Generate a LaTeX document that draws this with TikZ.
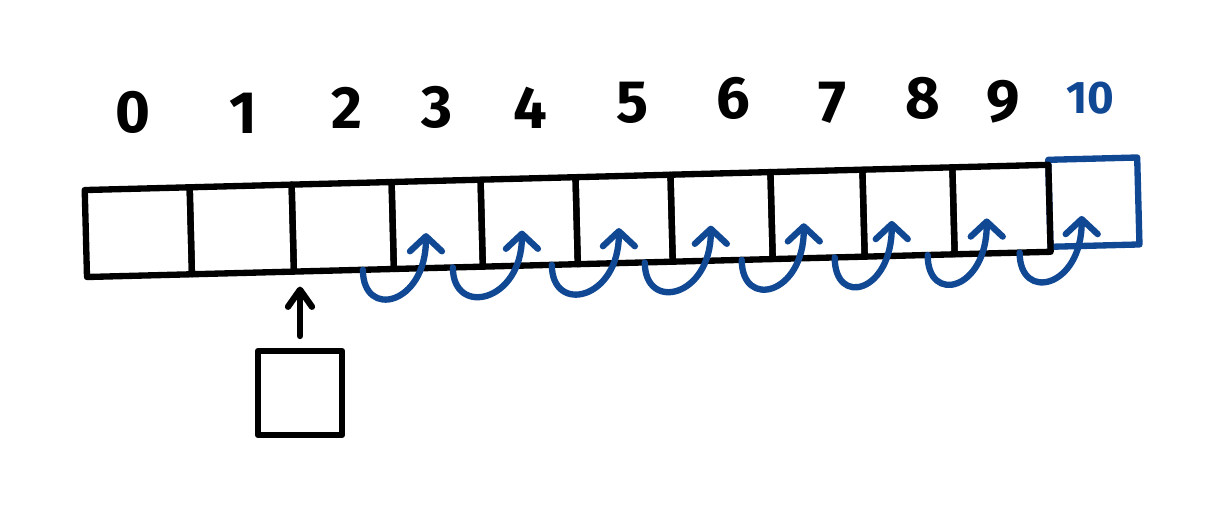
\documentclass[tikz,border=0pt]{standalone}
\usepackage{fontspec}
\setmainfont{Fira Sans}
\usetikzlibrary{arrows.meta}

\definecolor{penblue}{RGB}{16,72,148}

\begin{document}
\begin{tikzpicture}[
        ink/.style={line width=1.8pt, line cap=round, line join=round},
        cell/.style={ink, draw=black, minimum height=0.87cm, inner sep=0pt, outer sep=0pt, anchor=south west},
        hop/.style={ink, draw=penblue, -{Straight Barb[length=0.15cm,width=0.32cm,line cap=round,line join=round]}},
        idx/.style={font=\fontsize{17}{19}\selectfont\bfseries}]
    \useasboundingbox (0,0) rectangle (12.17,-5.04);

    % the array, drawn a little uphill
    \begin{scope}[rotate around={1.5:(0.87,-2.77)}, transform shape]
        \node [cell, draw=penblue, minimum width=0.89cm] (c10) at (10.51,-2.72) {};
        \foreach \i/\a/\b in {0/0.87/1.92, 1/1.92/2.94, 2/2.94/3.94, 3/3.94/4.83, 4/4.83/5.78,
                5/5.78/6.73, 6/6.73/7.73, 7/7.73/8.65, 8/8.65/9.55, 9/9.55/10.51} {
            \pgfmathsetmacro{\w}{\b-\a}
            \node [cell, minimum width=\w cm] (c\i) at (\a,-2.77) {};
        }
        \foreach \i/\s/\t in {3/3.63/4.27, 4/4.53/5.23, 5/5.52/6.20, 6/6.45/7.12,
                7/7.42/8.05, 8/8.35/8.93, 9/9.28/9.88, 10/10.20/10.83} {
            \coordinate (s\i) at (\s,-2.77);
            \coordinate (t\i) at (\t,-2.42);
        }
    \end{scope}

    % indices
    \foreach \i/\x/\y in {0/1.33/1.12, 1/2.43/1.13, 2/3.47/1.08, 3/4.37/1.07, 4/5.30/1.08,
            5/6.33/1.03, 6/7.33/0.98, 7/8.32/1.03, 8/9.23/0.98, 9/10.03/1.02}
        \node [idx] (n\i) at (\x,-\y) {\i};
    \node [idx, font=\fontsize{13}{15}\selectfont\bfseries, text=penblue] (n10) at (10.90,-0.98) {10};

    % shifting every element one place right
    \foreach \i in {3,...,10}
        \draw [hop] (s\i) .. controls +(0,-0.5) and +(0,-0.72) .. (t\i);

    % the element to insert
    \node [cell, minimum width=0.84cm, minimum height=0.84cm, anchor=center] (new) at (3.00,-3.93) {};
    \draw [ink, -{Straight Barb[length=0.17cm,width=0.24cm,line cap=round,line join=round]},
        shorten <=0.15cm, shorten >=0.15cm] (new.north) -- (new.north |- c2.south west);
\end{tikzpicture}
\end{document}
